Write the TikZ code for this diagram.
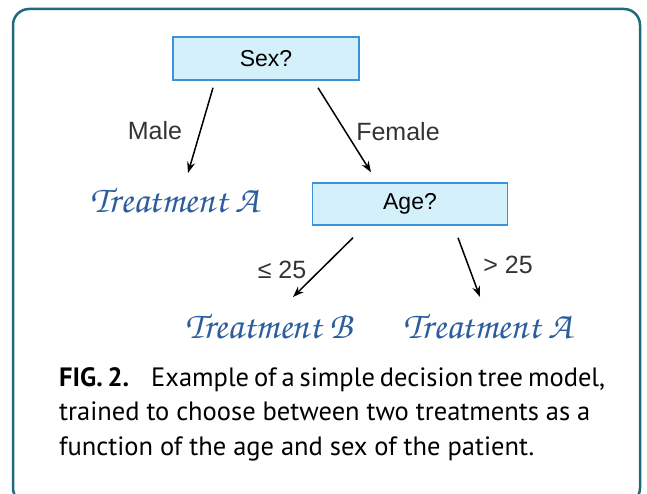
\documentclass[tikz,border=0pt]{standalone}
\usepackage{fontspec}
\setmainfont{Liberation Sans}
\newfontfamily\capfont{PT Sans}
\newfontfamily\treatfont{texgyrechorus-mediumitalic.otf}
\usepackage{tikz}
\usetikzlibrary{positioning,arrows.meta}
\definecolor{framecol}{HTML}{1F6B7C}
\definecolor{boxfill}{HTML}{D4F0FB}
\definecolor{boxline}{HTML}{3A93D8}
\definecolor{treatcol}{HTML}{2C5D9C}
\definecolor{labelcol}{HTML}{333333}
\tikzset{%
  question/.style={
    rectangle,
    draw=boxline,
    fill=boxfill,
    line width=1.5pt,
    font=\fontsize{23}{26}\selectfont
  },
  answer/.style={
    text=treatcol,
    font=\treatfont\fontsize{38}{40}\selectfont
  },
  branch/.style={
    text=labelcol,
    font=\fontsize{25}{28}\selectfont
  },
  edge/.style={
    ->,
    line width=1.5pt
  },
}

\begin{document}
\begin{tikzpicture}[> = {Stealth[length=11pt,width=8pt]}, x=1pt, y=-1pt]
\clip (0,0) rectangle (647,494);
\draw[framecol, line width=2.5pt, rounded corners=16pt] (13,9) rectangle (640,504);
    \node[question, minimum width=186pt, minimum height=43pt] (sex) at (266,58.5) {Sex?};
    \node[question, minimum width=195pt, minimum height=42pt] (age) at (410,204) {Age?};
    \node[answer] (treat_a1) at (175,200) {Treatment A};
    \node[answer] (treat_b) at (269,326) {Treatment B};
    \node[answer] (treat_a2) at (488,326) {Treatment A};

    \node[branch] (lbl_male) at (155,131) {Male};
    \node[branch] (lbl_female) at (398,132) {Female};
    \node[branch] (lbl_le) at (282,270) {≤ 25};
    \node[branch] (lbl_gt) at (508,265) {> 25};

   \draw[edge] ([shift={(-53,7)}]sex.south) -- ([shift={(13,-27)}]treat_a1.center);
   \draw[edge] ([shift={(52,7)}]sex.south) -- ([shift={(-39,-10)}]age.north);
   \draw[edge] ([shift={(-57,12)}]age.south) -- ([shift={(24,-29)}]treat_b.center);
   \draw[edge] ([shift={(48,12)}]age.south) -- ([shift={(-8,-29)}]treat_a2.center);

    \node[anchor=north west, align=left, inner sep=0pt, font=\capfont\fontsize{26.5}{34.5}\selectfont] (caption) at (59,367)
      {\makebox[546pt][s]{\textbf{FIG. 2.}\hspace{22pt}Example of a simple decision tree model,}\\
       \makebox[531pt][s]{trained to choose between two treatments as a}\\
       \makebox[475pt][s]{function of the age and sex of the patient.}};
\end{tikzpicture}
\end{document}
